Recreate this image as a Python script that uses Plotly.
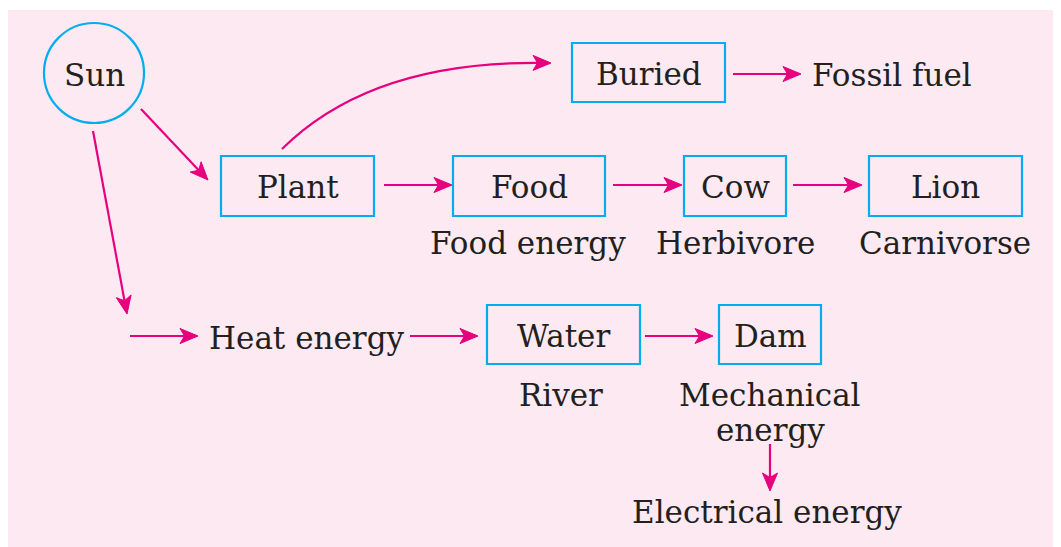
import math
import plotly.graph_objects as go

# ---- diagram content ----
box_labels = ["Plant", "Food", "Cow", "Lion", "Buried", "Water", "Dam"]
circle_labels = ["Sun"]
free_labels = ["Fossil fuel", "Heat energy", "Food energy", "Herbivore", "Carnivorse",
               "River", "Mechanical<br>energy", "Electrical energy"]
# links between items (from, to)
links = [("Sun", "Plant"), ("Sun", "Heat"), ("Plant", "Food"), ("Food", "Cow"),
         ("Cow", "Lion"), ("Buried", "Fossil fuel"), ("Heat start", "Heat energy"),
         ("Heat energy", "Water"), ("Water", "Dam"), ("Mechanical", "Electrical")]

# ---- layout geometry (pixels, y downward) ----
box_pos = {
    "Plant": (221, 156, 374, 216), "Food": (453, 156, 605, 216),
    "Cow": (684, 156, 786, 216), "Lion": (869, 156, 1022, 216),
    "Buried": (572, 43, 725, 102), "Water": (487, 305, 640, 364),
    "Dam": (719, 305, 821, 364),
}
circle_pos = {"Sun": (94, 73, 50)}
free_pos = {
    "Fossil fuel": (892, 75), "Heat energy": (306, 338), "Food energy": (528, 243),
    "Herbivore": (735, 243), "Carnivorse": (945, 243), "River": (561, 395),
    "Mechanical<br>energy": (770, 395), "Electrical energy": (767, 512),
}
LINE_GAP = 35
link_pos = {
    ("Sun", "Plant"): (141, 109, 208, 180), ("Sun", "Heat"): (93, 131, 127, 314),
    ("Plant", "Food"): (384, 185, 452, 185), ("Food", "Cow"): (613, 185, 682, 185),
    ("Cow", "Lion"): (793, 185, 862, 185), ("Buried", "Fossil fuel"): (733, 74, 801, 74),
    ("Heat start", "Heat energy"): (130, 336, 198, 336),
    ("Heat energy", "Water"): (410, 336, 478, 336), ("Water", "Dam"): (645, 336, 713, 336),
    ("Mechanical", "Electrical"): (770, 444, 770, 491),
}
curve = {"start": (282, 149), "ctrl": (370, 62), "tip": (551, 63)}  # Plant -> Buried

PINK_BG = "#fce9f1"
MAGENTA = "#e6007e"
CYAN = "#00aeef"
TEXT = "#231f20"
FONT = "DejaVu Serif"
FS = 31

W, H = 1061, 547
OFF = 8  # page body margin
shapes = []
annotations = []

shapes.append(dict(type="rect", x0=6, y0=10, x1=W, y1=H, line=dict(width=0),
                   fillcolor=PINK_BG, layer="below"))


def head(tx, ty, ux, uy, L=18, Wd=7.5, notch=4.5):
    nx, ny = -uy, ux
    bx, by = tx - L * ux, ty - L * uy
    mx, my = tx - (L - notch) * ux, ty - (L - notch) * uy
    path = (f"M {tx},{ty} L {bx + Wd * nx},{by + Wd * ny} L {mx},{my} "
            f"L {bx - Wd * nx},{by - Wd * ny} Z")
    shapes.append(dict(type="path", path=path, fillcolor=MAGENTA,
                       line=dict(color=MAGENTA, width=1)))
    return mx, my


for ln in links:
    x0, y0, x1, y1 = link_pos[ln]
    d = math.hypot(x1 - x0, y1 - y0)
    ux, uy = (x1 - x0) / d, (y1 - y0) / d
    mx, my = head(x1, y1, ux, uy)
    shapes.append(dict(type="line", x0=x0, y0=y0, x1=mx, y1=my,
                       line=dict(color=MAGENTA, width=2.2)))

# curved arrow
(sx, sy), (cx, cy), (tx, ty) = curve["start"], curve["ctrl"], curve["tip"]
d = math.hypot(tx - cx, ty - cy)
mx, my = head(tx, ty, (tx - cx) / d, (ty - cy) / d)
shapes.append(dict(type="path", path=f"M {sx},{sy} Q {cx},{cy} {mx},{my}",
                   line=dict(color=MAGENTA, width=2.2)))

for lab in box_labels:
    x0, y0, x1, y1 = box_pos[lab]
    shapes.append(dict(type="rect", x0=x0, y0=y0, x1=x1, y1=y1,
                       line=dict(color=CYAN, width=2.2), fillcolor="rgba(0,0,0,0)"))
    annotations.append(dict(x=(x0 + x1) / 2, y=(y0 + y1) / 2 + 1, text=lab,
                            showarrow=False, font=dict(family=FONT, size=FS, color=TEXT)))

for lab in circle_labels:
    cx0, cy0, r = circle_pos[lab]
    shapes.append(dict(type="circle", x0=cx0 - r, y0=cy0 - r, x1=cx0 + r, y1=cy0 + r,
                       line=dict(color=CYAN, width=2.2)))
    annotations.append(dict(x=cx0, y=cy0 + 2, text=lab, showarrow=False,
                            font=dict(family=FONT, size=FS, color=TEXT)))

for lab in free_labels:
    x, y = free_pos[lab]
    for i, part in enumerate(lab.split("<br>")):
        annotations.append(dict(x=x, y=y + i * LINE_GAP, text=part, showarrow=False,
                                font=dict(family=FONT, size=FS, color=TEXT)))

fig = go.Figure()
fig.update_layout(
    width=W - OFF, height=H - OFF, margin=dict(l=0, r=0, t=0, b=0),
    paper_bgcolor="white", plot_bgcolor="white", showlegend=False,
    xaxis=dict(range=[OFF, W], visible=False, fixedrange=True),
    yaxis=dict(range=[H, OFF], visible=False, fixedrange=True),
    shapes=shapes, annotations=annotations,
)
fig.write_html("out.html")
